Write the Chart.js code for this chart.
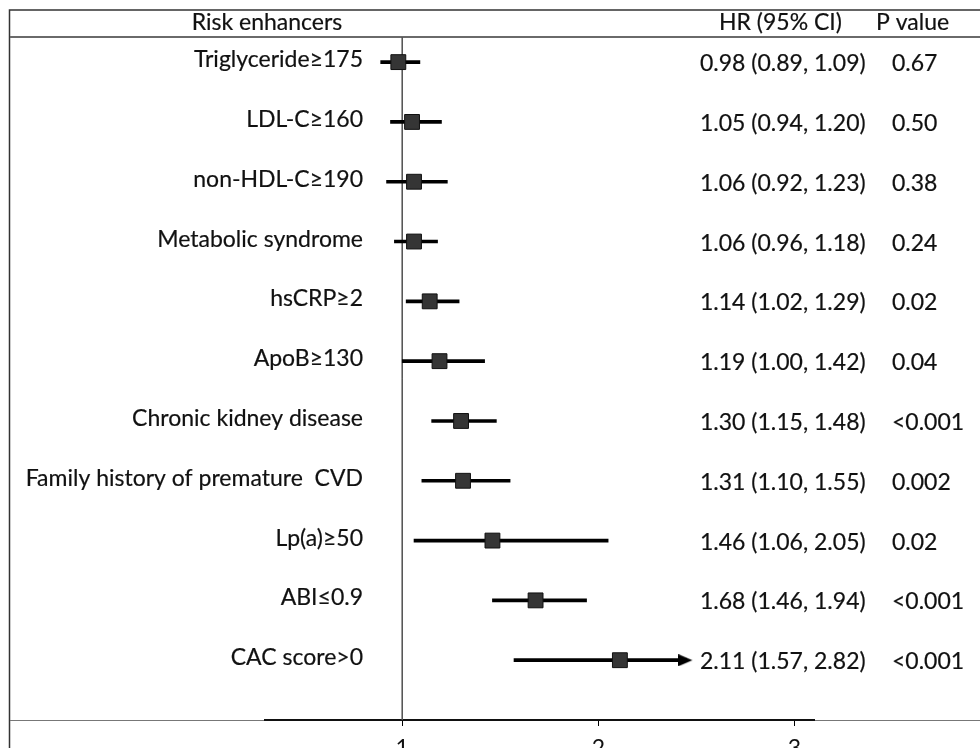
<!DOCTYPE html>
<html>
<head>
<meta charset="utf-8">
<script src="https://cdn.jsdelivr.net/npm/chart.js@4.4.1/dist/chart.umd.min.js"></script>
<style>
html,body{margin:0;padding:0;background:#fff;}
#wrap{width:980px;height:748px;position:relative;}
</style>
</head>
<body>
<div id="wrap"><canvas id="c"></canvas></div>
<script>
// ---- data ----
const categories = [
  "Triglyceride\u2265175",
  "LDL-C\u2265160",
  "non-HDL-C\u2265190",
  "Metabolic syndrome",
  "hsCRP\u22652",
  "ApoB\u2265130",
  "Chronic kidney disease",
  "Family history of premature  CVD",
  "Lp(a)\u226550",
  "ABI\u22640.9",
  "CAC score>0"
];
const hr     = [0.98, 1.05, 1.06, 1.06, 1.14, 1.19, 1.30, 1.31, 1.46, 1.68, 2.11];
const ciLow  = [0.89, 0.94, 0.92, 0.96, 1.02, 1.00, 1.15, 1.10, 1.06, 1.46, 1.57];
const ciHigh = [1.09, 1.20, 1.23, 1.18, 1.29, 1.42, 1.48, 1.55, 2.05, 1.94, 2.82];
const pValues = ["0.67", "0.50", "0.38", "0.24", "0.02", "0.04", "<0.001", "0.002", "0.02", "<0.001", "<0.001"];
const xTicks = [1, 2, 3];
const xTickLabels = ["1", "2", "3"];
const headers = ["Risk enhancers", "HR (95% CI)", "P value"];
const truncateAt = 2.48;   // CI drawn with an arrow beyond this value

const hrLabels = hr.map((v, i) => v.toFixed(2) + " (" + ciLow[i].toFixed(2) + ", " + ciHigh[i].toFixed(2) + ")");

// ---- layout / style ----
const X_MIN = 0.3, X_MAX = 3.1;
const Y_MIN = -0.42, Y_MAX = 11.0;
const FAMILY = "Lato, 'Open Sans', sans-serif";
const FONT = "23px " + FAMILY;
const TXT = "#111";

// arrow head image (tip at image centre)
const arrow = document.createElement("canvas");
arrow.width = 28; arrow.height = 12;
(function(){
  const g = arrow.getContext("2d");
  g.fillStyle = "#000";
  g.beginPath(); g.moveTo(0, 0); g.lineTo(14, 6); g.lineTo(0, 12); g.closePath(); g.fill();
})();

function txt(ctx, s, x, y) {
  ctx.fillText(s, x, y);
  ctx.strokeText(s, x, y);
}

const textPlugin = {
  id: "forestText",
  beforeDraw(chart) {
    const ctx = chart.ctx, a = chart.chartArea;
    ctx.save();
    // frame
    ctx.strokeStyle = "#333"; ctx.lineWidth = 1.5;
    ctx.beginPath(); ctx.moveTo(9.5, 748); ctx.lineTo(9.5, 10); ctx.lineTo(980, 10); ctx.stroke();
    ctx.strokeStyle = "#6a6a6a"; ctx.lineWidth = 2;
    ctx.beginPath(); ctx.moveTo(10, a.top); ctx.lineTo(980, a.top); ctx.stroke();
    ctx.strokeStyle = "#777"; ctx.lineWidth = 1;
    ctx.beginPath(); ctx.moveTo(10, a.bottom + 0.5); ctx.lineTo(980, a.bottom + 0.5); ctx.stroke();
    ctx.restore();
  },
  afterDraw(chart) {
    const ctx = chart.ctx, ys = chart.scales.y;
    ctx.save();
    ctx.font = FONT; ctx.fillStyle = TXT; ctx.strokeStyle = TXT; ctx.lineWidth = 0.2;
    ctx.textBaseline = "alphabetic";
    // headers
    ctx.textAlign = "center"; txt(ctx, headers[0], 267, 30);
    ctx.textAlign = "left"; txt(ctx, headers[1], 719, 30); txt(ctx, headers[2], 876, 30);
    // rows
    categories.forEach((c, i) => {
      const y = ys.getPixelForValue(i);
      ctx.textAlign = "right"; txt(ctx, c, 363, y + 5);
      ctx.textAlign = "left";
      txt(ctx, hrLabels[i], 700, y + 9);
      txt(ctx, pValues[i], 892, y + 9);
    });
    ctx.restore();
  }
};

function build() {
  new Chart(document.getElementById("c"), {
    type: "scatter",
    data: {
      datasets: [
        { // markers
          type: "scatter", order: 0,
          data: hr.map((v, i) => ({ x: v, y: i })),
          pointStyle: "rect", pointRadius: 10.5, pointHoverRadius: 10.5,
          backgroundColor: "#353535", borderColor: "#111", borderWidth: 1
        },
        { // truncation arrows
          type: "scatter", order: 1,
          data: ciHigh.map((v, i) => v > truncateAt ? { x: truncateAt, y: i } : null).filter(d => d),
          pointStyle: arrow, pointRadius: 7
        },
        { // confidence intervals
          type: "bar", order: 2, indexAxis: "y",
          data: ciLow.map((lo, i) => ({ y: i, x: [lo, Math.min(ciHigh[i], truncateAt - 0.03)] })),
          backgroundColor: "#000", borderWidth: 0, barThickness: 3
        },
        { // reference line at HR = 1
          type: "line", order: 3,
          data: [{ x: 1, y: Y_MIN }, { x: 1, y: Y_MAX }],
          borderColor: "#555", borderWidth: 1, pointRadius: 0, fill: false
        }
      ]
    },
    options: {
      responsive: true, maintainAspectRatio: false, animation: false, events: [],
      layout: { padding: { left: 265, right: 166, top: 37, bottom: 0 } },
      plugins: { legend: { display: false }, tooltip: { enabled: false } },
      scales: {
        x: {
          type: "linear", position: "bottom", min: X_MIN, max: X_MAX, offset: false,
          afterBuildTicks: s => { s.ticks = xTicks.map(v => ({ value: v })); },
          afterFit: s => { s.height = 28; },
          ticks: {
            callback: (v, idx) => xTickLabels[idx],
            font: { family: FAMILY, size: 23 },
            color: TXT, padding: 9, maxRotation: 0, autoSkip: false
          },
          grid: { drawOnChartArea: false, drawTicks: true, tickLength: 6, color: "#000", lineWidth: 1, offset: false },
          border: { display: true, color: "#111", width: 2 }
        },
        y: { type: "linear", min: Y_MIN, max: Y_MAX, reverse: true, display: false, offset: false, grid: { offset: false } }
      }
    },
    plugins: [textPlugin]
  });
}
if (document.fonts && document.fonts.load) {
  document.fonts.load(FONT).then(build, build);
} else { build(); }
</script>
</body>
</html>
